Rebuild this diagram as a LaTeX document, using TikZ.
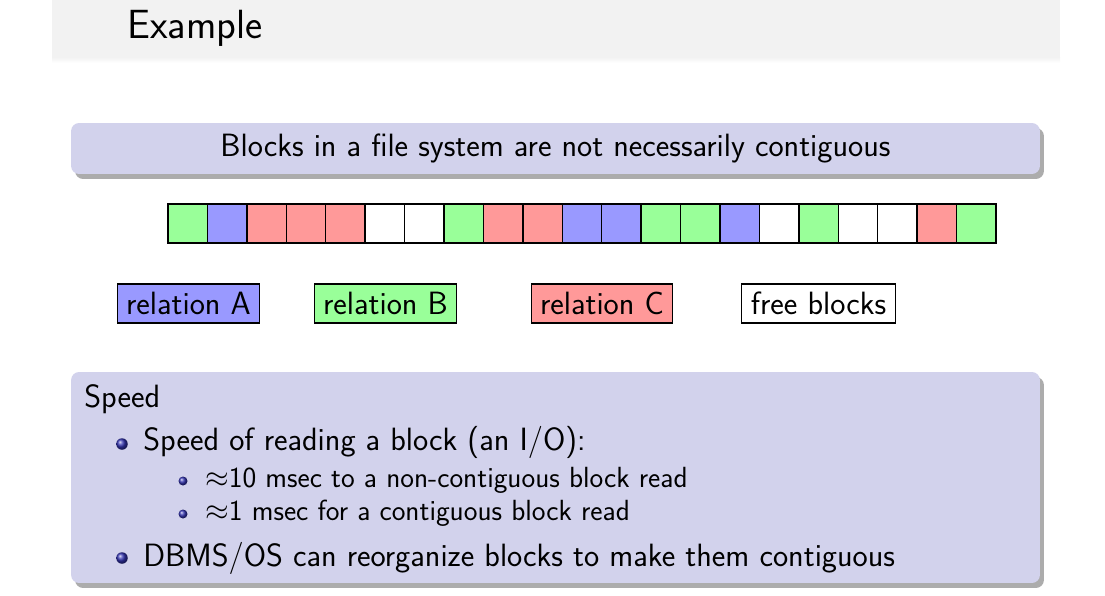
\documentclass[tikz,border=0pt]{standalone}
\usepackage{amsmath}
\usepackage{amssymb}
\usepackage{xcolor}
\usepackage{tikz}
\usetikzlibrary{shadows, calc}

\definecolor{blocbg}{RGB}{210,210,236}
\definecolor{titrebg}{RGB}{242,242,242}
\definecolor{boule}{RGB}{51,51,178}
\colorlet{vert}{green!40}
\colorlet{bleu}{blue!40}
\colorlet{rouge}{red!40}
\colorlet{libre}{white}

\newcommand{\policetitre}{\sffamily\fontsize{23.2}{27}\selectfont}
\newcommand{\policebloc}{\sffamily\fontsize{18.35}{22}\selectfont}
\newcommand{\policesous}{\sffamily\fontsize{16.6}{20}\selectfont}

\tikzset{
  case/.style={draw, line width=0.8pt, minimum width=0.7886cm, minimum height=0.78cm, inner sep=0pt},
  legende/.style={draw, line width=0.6pt, minimum height=0.78cm, inner xsep=0.18cm, font=\policebloc},
  bloc/.style={fill=blocbg, rounded corners=0.16cm, minimum width=19.38cm,
    drop shadow={shadow xshift=0.08cm, shadow yshift=-0.1cm, opacity=0.5, fill=black!65}},
  puce/.style={circle, inner sep=0pt, ball color=boule},
  ligne/.style={anchor=base west, inner sep=0pt},
}

\begin{document}
\begin{tikzpicture}[x=0.02cm, y=-0.02cm]
        \useasboundingbox (0,0) rectangle (1105,595);

        % Bandeau du titre
        \fill[titrebg] (52,0) rectangle (1060,57);
        \shade[top color=titrebg, bottom color=white] (52,57) rectangle (1060,63);
        \node[ligne, font=\policetitre] (titre) at (127,38) {Example};

        % Bloc du haut
        \node[bloc, minimum height=1.02cm, font=\policebloc] (entete) at (555.5,148.5) {Blocks in a file system are not necessarily contiguous};

        % Les 21 cases du disque
        \foreach \c [count=\i] in {vert,bleu,rouge,rouge,rouge,libre,libre,vert,rouge,rouge,bleu,bleu,vert,vert,bleu,libre,vert,libre,libre,rouge,vert} {
            \node[case, fill=\c] (case\i) at ({168+39.43*(\i-0.5)},223.5) {};
        }

        % Legende
        \node[legende, fill=bleu] (relA) at (188.5,303.5) {relation A};
        \node[legende, fill=vert] (relB) at (385.5,303.5) {relation B};
        \node[legende, fill=rouge] (relC) at (602,303.5) {relation C};
        \node[legende, fill=libre] (libres) at (818.5,303.5) {free blocks};

        % Bloc du bas
        \node[bloc, minimum height=4.22cm] (vitesse) at (555.5,477.5) {};
        \node[ligne, font=\policebloc] (speed) at (84,407) {Speed};
        \node[puce, minimum size=0.23cm] (p1) at (122,444) {};
        \node[ligne, font=\policebloc] (item1) at (143,450) {Speed of reading a block (an I/O):};
        \node[puce, minimum size=0.18cm] (p2) at (183,481) {};
        \node[ligne, font=\policesous] (sous1) at (205,487) {$\approx$10 msec to a non-contiguous block read};
        \node[puce, minimum size=0.18cm] (p3) at (183,514) {};
        \node[ligne, font=\policesous] (sous2) at (205,520) {$\approx$1 msec for a contiguous block read};
        \node[puce, minimum size=0.23cm] (p4) at (122,558) {};
        \node[ligne, font=\policebloc] (item2) at (143,566) {DBMS/OS can reorganize blocks to make them contiguous};
    \end{tikzpicture}
\end{document}
